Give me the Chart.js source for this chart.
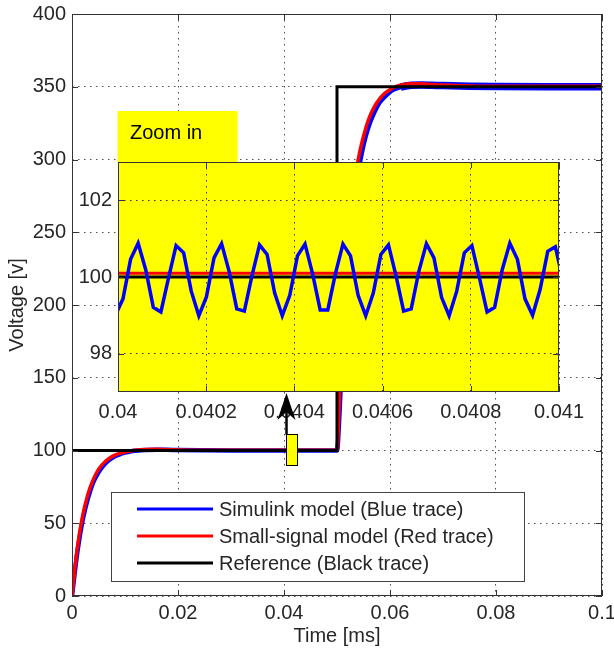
<!DOCTYPE html>
<html>
<head>
<meta charset="utf-8">
<script src="https://cdn.jsdelivr.net/npm/chart.js@4.4.0/dist/chart.umd.min.js"></script>
<style>
  html, body { margin: 0; padding: 0; background: #fff; }
  #wrap { position: relative; width: 614px; height: 653px; }
  #wrap canvas { position: absolute; left: 0; top: 0; }
</style>
</head>
<body>
<div id="wrap">
  <canvas id="mainChart" width="614" height="653"></canvas>
  <canvas id="zoomChart" width="614" height="653"></canvas>
</div>
<script>
// step response, time in ms, voltage in V
const stepTime = [0, 0.001, 0.002, 0.003, 0.004, 0.005, 0.006, 0.007, 0.008, 0.009, 0.010, 0.011, 0.012, 0.014, 0.016, 0.018, 0.020, 0.025, 0.030, 0.040, 0.050,
                  0.0505, 0.051, 0.052, 0.053, 0.054, 0.055, 0.056, 0.057, 0.058, 0.059, 0.060, 0.061, 0.062, 0.064, 0.066, 0.068, 0.070, 0.075, 0.080, 0.090, 0.100];
const simulinkVolt = [0, 30, 52, 67, 78, 85, 90, 93.5, 95.8, 97.4, 98.5, 99.3, 99.8, 100.4, 100.6, 100.5, 100.3, 100.1, 100, 100, 100,
                      128, 170, 226, 265, 291, 310, 323, 332, 339, 343, 346.5, 348.5, 349.8, 351, 351.2, 351, 350.8, 350.4, 350.2, 350, 350];
const smallSignalVolt = [0, 33, 55, 70, 80, 87, 91.5, 94.5, 96.6, 98, 99, 99.7, 100.2, 100.7, 100.8, 100.6, 100.4, 100.1, 100.1, 100.1, 100.1,
                         140, 183, 237, 274, 300, 316, 328, 336, 341.5, 345.5, 348, 350, 351, 352, 352, 351.6, 351.2, 350.6, 350.4, 350.3, 350.3];
const refTime = [0, 0.05, 0.05, 0.1];
const refVolt = [100, 100, 350, 350];

// zoomed window 0.04 .. 0.041 ms
const zoomTime = [0.0399941, 0.0400113, 0.0400285, 0.0400457, 0.0400629, 0.0400801, 0.0400973, 0.0401145, 0.0401317, 0.0401489,
                  0.0401661, 0.0401833, 0.0402005, 0.0402177, 0.0402349, 0.0402521, 0.0402693, 0.0402865, 0.0403037, 0.0403209,
                  0.0403381, 0.0403553, 0.0403725, 0.0403897, 0.0404069, 0.0404241, 0.0404413, 0.0404585, 0.0404757, 0.0404929,
                  0.0405101, 0.0405273, 0.0405445, 0.0405617, 0.0405789, 0.0405961, 0.0406133, 0.0406305, 0.0406477, 0.0406649,
                  0.0406821, 0.0406993, 0.0407165, 0.0407337, 0.0407509, 0.0407681, 0.0407853, 0.0408025, 0.0408197, 0.0408369,
                  0.0408541, 0.0408713, 0.0408885, 0.0409057, 0.0409229, 0.0409401, 0.0409573, 0.0409745, 0.0409917, 0.0410089];
const zoomSimulinkVolt = [99.00, 99.43, 100.46, 100.88, 100.19, 99.21, 99.09, 99.97, 100.82, 100.63,
                          99.63, 98.99, 99.48, 100.50, 100.87, 100.14, 99.17, 99.11, 100.03, 100.84,
                          100.59, 99.58, 98.99, 99.53, 100.55, 100.86, 100.08, 99.14, 99.14, 100.08,
                          100.86, 100.55, 99.52, 98.99, 99.58, 100.59, 100.84, 100.03, 99.11, 99.17,
                          100.14, 100.87, 100.50, 99.47, 98.99, 99.63, 100.63, 100.82, 99.97, 99.09,
                          99.21, 100.19, 100.88, 100.46, 99.43, 99.00, 99.68, 100.67, 100.79, 99.91];
const zoomEdgeTime = [0.0399, 0.0411];
const zoomSmallSignalVolt = [100.1, 100.1];
const zoomRefVolt = [100, 100];

const timeTicks = [0, 0.02, 0.04, 0.06, 0.08, 0.1];
const voltTicks = [0, 50, 100, 150, 200, 250, 300, 350, 400];
const zoomTimeTicks = [0.04, 0.0402, 0.0404, 0.0406, 0.0408, 0.041];
const zoomVoltTicks = [98, 100, 102];

// area of the main plot that the inset magnifies (marker box)
const markerTime = [0.0403, 0.0425];
const markerVolt = [90, 111];

const seriesNames = ['Simulink model (Blue trace)', 'Small-signal model (Red trace)', 'Reference (Black trace)'];
const seriesColors = ['#0000ff', '#ff0000', '#000000'];

const FONT = '"Liberation Sans", Arial, Helvetica, sans-serif';
const TEXT = '#262626';
const toPoints = (xs, ys) => xs.map((x, i) => ({ x: x, y: ys[i] }));

// keep tick labels from shrinking the plot area
function noEdgePadding(s) {
  s.paddingLeft = 0; s.paddingRight = 0; s.paddingTop = 0; s.paddingBottom = 0;
}

// box around the axes with inward tick marks on all four sides
function drawBox(chart, tickLen, color) {
  const { ctx, chartArea: a, scales: { x, y } } = chart;
  ctx.save();
  ctx.strokeStyle = color;
  ctx.lineWidth = 1;
  ctx.beginPath();
  x.ticks.forEach(t => {
    const px = Math.round(x.getPixelForValue(t.value)) + 0.5;
    ctx.moveTo(px, a.bottom); ctx.lineTo(px, a.bottom - tickLen);
    ctx.moveTo(px, a.top); ctx.lineTo(px, a.top + tickLen);
  });
  y.ticks.forEach(t => {
    const py = Math.round(y.getPixelForValue(t.value)) + 0.5;
    ctx.moveTo(a.left, py); ctx.lineTo(a.left + tickLen, py);
    ctx.moveTo(a.right, py); ctx.lineTo(a.right - tickLen, py);
  });
  ctx.stroke();
  ctx.strokeRect(Math.round(a.left) + 0.5, Math.round(a.top) + 0.5,
                 Math.round(a.right - a.left) - 1, Math.round(a.bottom - a.top) - 1);
  ctx.restore();
}

const mainDecor = {
  id: 'mainDecor',
  afterDatasetsDraw(chart) {
    const ctx = chart.ctx;
    // legend
    ctx.save();
    ctx.fillStyle = '#ffffff';
    ctx.fillRect(111, 492, 413, 89);
    ctx.strokeStyle = '#444';
    ctx.lineWidth = 1;
    ctx.strokeRect(111.5, 492.5, 413, 89);
    ctx.font = '20px ' + FONT;
    ctx.textBaseline = 'middle';
    seriesNames.forEach((name, i) => {
      const ry = 509 + i * 27;
      ctx.strokeStyle = seriesColors[i];
      ctx.lineWidth = 3;
      ctx.beginPath();
      ctx.moveTo(137, ry); ctx.lineTo(213, ry);
      ctx.stroke();
      ctx.fillStyle = TEXT;
      ctx.fillText(name, 219, ry + 1);
    });
    ctx.restore();
  },
  afterDraw(chart) {
    drawBox(chart, 6, '#333');
  }
};

const mainChart = new Chart(document.getElementById('mainChart'), {
  type: 'line',
  data: {
    datasets: [
      {
        label: seriesNames[0], data: toPoints(stepTime, simulinkVolt),
        borderColor: seriesColors[0], borderWidth: 4.5, order: 3,
        cubicInterpolationMode: 'monotone',
        segment: { borderWidth: c => (c.p0.parsed.x >= 0.062 ? 7.5 : 4.5) }
      },
      {
        label: seriesNames[1], data: toPoints(stepTime, smallSignalVolt),
        borderColor: seriesColors[1], borderWidth: 3.5, order: 2,
        cubicInterpolationMode: 'monotone'
      },
      {
        label: seriesNames[2], data: toPoints(refTime, refVolt),
        borderColor: seriesColors[2], borderWidth: 3, order: 1
      }
    ]
  },
  options: {
    responsive: false,
    animation: false,
    devicePixelRatio: 1,
    clip: 0,
    elements: { point: { radius: 0 }, line: { borderJoinStyle: 'miter' } },
    layout: { padding: { top: 14, right: 12, left: 0, bottom: 0 } },
    plugins: { legend: { display: false }, tooltip: { enabled: false } },
    scales: {
      x: {
        type: 'linear', min: 0, max: 0.1,
        afterBuildTicks: s => { s.ticks = timeTicks.map(v => ({ value: v })); },
        afterFit: s => { s.height = 57; noEdgePadding(s); },
        ticks: {
          font: { family: FONT, size: 20 }, color: TEXT, padding: 5,
          maxRotation: 0, autoSkip: false, callback: v => String(v)
        },
        grid: { color: '#4d4d4d', lineWidth: 1, drawTicks: false },
        border: { display: false, dash: [1.5, 4.5] },
        title: {
          display: true, text: 'Time [ms]', color: TEXT,
          font: { family: FONT, size: 20 }, padding: { top: 0, bottom: 5 }
        }
      },
      y: {
        type: 'linear', min: 0, max: 400,
        afterBuildTicks: s => { s.ticks = voltTicks.map(v => ({ value: v })); },
        afterFit: s => { s.width = 72; noEdgePadding(s); },
        ticks: { font: { family: FONT, size: 20 }, color: TEXT, padding: 6 },
        grid: { color: '#4d4d4d', lineWidth: 1, drawTicks: false },
        border: { display: false, dash: [1.5, 4.5] },
        title: {
          display: true, text: 'Voltage [v]', color: TEXT,
          font: { family: FONT, size: 20 }, padding: { top: 5, bottom: 0 }
        }
      }
    }
  },
  plugins: [mainDecor]
});

const zoomDecor = {
  id: 'zoomDecor',
  beforeDraw(chart) {
    const { ctx, chartArea: a } = chart;
    ctx.save();
    ctx.fillStyle = '#ffff00';
    ctx.fillRect(a.left, a.top, a.right - a.left, a.bottom - a.top);
    // caption tab above the inset
    ctx.fillRect(a.left - 0.5, a.top - 51, 120, 51);
    ctx.fillStyle = '#000';
    ctx.font = '20px ' + FONT;
    ctx.textBaseline = 'alphabetic';
    ctx.fillText('Zoom in', a.left + 12, a.top - 23);
    ctx.restore();
  },
  afterDraw(chart) {
    drawBox(chart, 6, '#333');
    // marker box on the main plot and arrow up to the inset
    const mx = mainChart.scales.x, my = mainChart.scales.y;
    const ctx = chart.ctx;
    const x0 = Math.round(mx.getPixelForValue(markerTime[0])) + 0.5;
    const x1 = Math.round(mx.getPixelForValue(markerTime[1])) + 0.5;
    const yTop = Math.round(my.getPixelForValue(markerVolt[1])) + 0.5;
    const yBot = Math.round(my.getPixelForValue(markerVolt[0])) + 0.5;
    ctx.save();
    ctx.fillStyle = '#ffff00';
    ctx.fillRect(x0, yTop, x1 - x0, yBot - yTop);
    ctx.strokeStyle = '#000';
    ctx.lineWidth = 1;
    ctx.strokeRect(x0, yTop, x1 - x0, yBot - yTop);
    const tip = chart.chartArea.bottom + 1;
    ctx.lineWidth = 2.5;
    ctx.beginPath();
    ctx.moveTo(x0, yTop);
    ctx.lineTo(x0, tip + 18);
    ctx.stroke();
    ctx.fillStyle = '#000';
    ctx.beginPath();
    ctx.moveTo(x0, tip);
    ctx.lineTo(x0 + 9, tip + 27);
    ctx.lineTo(x0, tip + 19);
    ctx.lineTo(x0 - 9, tip + 27);
    ctx.closePath();
    ctx.fill();
    ctx.restore();
  }
};

new Chart(document.getElementById('zoomChart'), {
  type: 'line',
  data: {
    datasets: [
      {
        label: seriesNames[0], data: toPoints(zoomTime, zoomSimulinkVolt),
        borderColor: seriesColors[0], borderWidth: 3.5, order: 1
      },
      {
        label: seriesNames[1], data: toPoints(zoomEdgeTime, zoomSmallSignalVolt),
        borderColor: seriesColors[1], borderWidth: 3, order: 2
      },
      {
        label: seriesNames[2], data: toPoints(zoomEdgeTime, zoomRefVolt),
        borderColor: seriesColors[2], borderWidth: 3, order: 3
      }
    ]
  },
  options: {
    responsive: false,
    animation: false,
    devicePixelRatio: 1,
    clip: 0,
    elements: { point: { radius: 0 }, line: { borderJoinStyle: 'miter' } },
    layout: { padding: { top: 162, right: 55, left: 0, bottom: 0 } },
    plugins: { legend: { display: false }, tooltip: { enabled: false } },
    scales: {
      x: {
        type: 'linear', min: 0.04, max: 0.041,
        afterBuildTicks: s => { s.ticks = zoomTimeTicks.map(v => ({ value: v })); },
        afterFit: s => { s.height = 261; noEdgePadding(s); },
        ticks: {
          font: { family: FONT, size: 20 }, color: TEXT, padding: 8,
          maxRotation: 0, autoSkip: false, callback: v => String(v)
        },
        grid: { color: '#333', lineWidth: 1, drawTicks: false },
        border: { display: false, dash: [1.5, 4.5] }
      },
      y: {
        type: 'linear', min: 97, max: 103,
        afterBuildTicks: s => { s.ticks = zoomVoltTicks.map(v => ({ value: v })); },
        afterFit: s => { s.width = 118; noEdgePadding(s); },
        ticks: { font: { family: FONT, size: 20 }, color: TEXT, padding: 6 },
        grid: { color: '#333', lineWidth: 1, drawTicks: false },
        border: { display: false, dash: [1.5, 4.5] }
      }
    }
  },
  plugins: [zoomDecor]
});
</script>
</body>
</html>
